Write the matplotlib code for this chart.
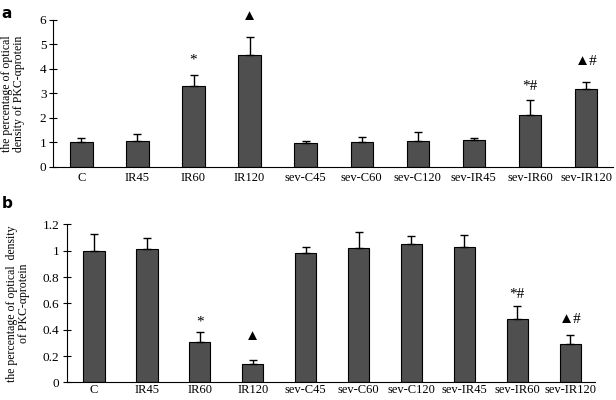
import numpy as np
import matplotlib
matplotlib.use("Agg")
import matplotlib.pyplot as plt

plt.rcParams['font.family'] = ['Liberation Serif', 'DejaVu Sans']

groups = ['C', 'IR45', 'IR60', 'IR120', 'sev-C45', 'sev-C60', 'sev-C120',
          'sev-IR45', 'sev-IR60', 'sev-IR120']

# panel a
vals_a = [1.0, 1.07, 3.3, 4.56, 0.98, 1.0, 1.04, 1.11, 2.1, 3.16]
err_a = [0.18, 0.29, 0.47, 0.76, 0.09, 0.21, 0.38, 0.07, 0.64, 0.31]
marks_a = {2: ('*', 4.38), 3: ('▲', 6.13), 8: ('*#', 3.28), 9: ('▲#', 4.3)}

# panel b
vals_b = [1.0, 1.01, 0.31, 0.14, 0.98, 1.02, 1.05, 1.03, 0.48, 0.29]
err_b = [0.13, 0.09, 0.07, 0.03, 0.045, 0.12, 0.06, 0.09, 0.1, 0.07]
marks_b = {2: ('*', 0.46), 3: ('▲', 0.35), 8: ('*#', 0.67), 9: ('▲#', 0.48)}

bar_color = '#4f4f4f'

fig = plt.figure(figsize=(6.16, 4.0), dpi=100)
ax_a = fig.add_axes([0.0866, 0.583, 0.9084, 0.367])
ax_b = fig.add_axes([0.108, 0.044, 0.858, 0.395])


def draw_panel(ax, vals, errs, marks, ylim, yticks, yticklabels, ylabel, xlim, xpad):
    x = np.arange(len(groups))
    ax.bar(x, vals, width=0.4, color=bar_color, edgecolor='black', linewidth=0.8,
           zorder=2)
    ax.errorbar(x, vals, yerr=[np.zeros(len(vals)), errs], fmt='none',
                ecolor='black', elinewidth=1.0, capsize=3, capthick=1.0, zorder=3)
    for i, (txt, y) in marks.items():
        ax.text(i, y, txt, ha='center', va='center', fontsize=11, clip_on=False)
    ax.set_xlim(*xlim)
    ax.set_ylim(*ylim)
    ax.set_yticks(yticks)
    ax.set_yticklabels(yticklabels)
    ax.set_xticks(x)
    ax.set_xticklabels(groups)
    ax.spines['top'].set_visible(False)
    ax.spines['right'].set_visible(False)
    ax.tick_params(axis='x', length=0, pad=xpad, labelsize=9)
    ax.tick_params(axis='y', direction='inout', length=6, labelsize=9.5, pad=2)
    ax.set_ylabel(ylabel, fontsize=8.5, linespacing=1.0)


draw_panel(ax_a, vals_a, err_a, marks_a, (0, 6), range(7),
           [str(v) for v in range(7)],
           'the percentage of optical\ndensity of PKC-αprotein', (-0.5, 9.48), 4)
ax_a.yaxis.set_label_coords(-0.05, 0.5)

ticks_b = [0, 0.2, 0.4, 0.6, 0.8, 1.0, 1.2]
draw_panel(ax_b, vals_b, err_b, marks_b, (0, 1.2), ticks_b,
           ['0', '0.2', '0.4', '0.6', '0.8', '1', '1.2'],
           'the percentage of optical  density\nof PKC-αprotein', (-0.52, 9.47), 1)
ax_b.yaxis.set_label_coords(-0.07, 0.5)

fig.text(0.003, 0.985, 'a', fontsize=11, fontweight='bold', family='DejaVu Sans',
         va='top')
fig.text(0.003, 0.51, 'b', fontsize=11, fontweight='bold', family='DejaVu Sans',
         va='top')

fig.savefig('out.png', dpi=100)
